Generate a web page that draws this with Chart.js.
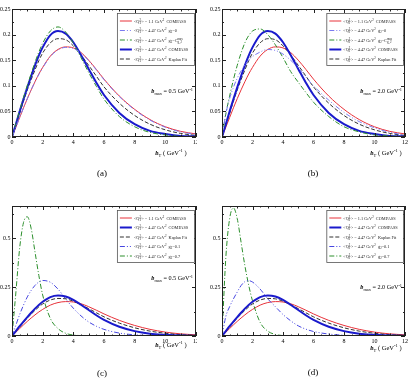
<!DOCTYPE html>
<html><head><meta charset="utf-8">
<script src="https://cdn.jsdelivr.net/npm/chart.js@4.4.1/dist/chart.umd.min.js"></script>
<style>
html,body{margin:0;padding:0;background:#fff;}
body{width:411px;height:382px;position:relative;overflow:hidden;}
canvas{position:absolute;}
</style></head><body>
<canvas id="ca" width="197" height="190" style="left:0;top:0"></canvas>
<canvas id="cb" width="206" height="190" style="left:205px;top:0"></canvas>
<canvas id="cc" width="197" height="192" style="left:0;top:190px"></canvas>
<canvas id="cd" width="206" height="192" style="left:205px;top:190px"></canvas>
<script>
// ---- data ----
const bT = [0,0.25,0.5,0.75,1,1.25,1.5,1.75,2,2.5,3,3.5,4,4.5,5,5.5,6,7,8,9,10,11,12];
const xTicks = [0,2,4,6,8,10,12];
const yTicksAB = [0,0.05,0.1,0.15,0.2,0.25];
const yTicksCD = [0,0.25,0.5];
const compass11 = [0,0.019,0.038,0.057,0.075,0.092,0.108,0.123,0.136,0.158,0.171,0.176,0.174,0.165,0.150,0.132,0.113,0.080,0.054,0.034,0.020,0.011,0.006];
const compass447 = [0,0.025,0.050,0.074,0.097,0.119,0.140,0.159,0.175,0.199,0.207,0.202,0.185,0.160,0.133,0.106,0.082,0.047,0.025,0.012,0.006,0.002,0.001];
const kaplanFit = [0,0.023,0.046,0.070,0.092,0.112,0.131,0.149,0.164,0.184,0.192,0.190,0.178,0.160,0.140,0.119,0.098,0.066,0.042,0.025,0.014,0.007,0.003];
const g2zeroA = [0,0.019,0.038,0.057,0.075,0.092,0.108,0.122,0.135,0.157,0.170,0.175,0.173,0.164,0.149,0.131,0.112,0.079,0.053,0.033,0.019,0.010,0.005];
const g2maxA = [0,0.026,0.052,0.077,0.101,0.124,0.146,0.166,0.183,0.207,0.215,0.205,0.183,0.155,0.126,0.099,0.074,0.040,0.020,0.009,0.004,0.001,0];
const g2zeroB = [0,0.045,0.075,0.097,0.115,0.129,0.141,0.150,0.157,0.166,0.171,0.169,0.162,0.150,0.135,0.117,0.100,0.072,0.048,0.030,0.018,0.009,0.004];
const g2maxB = [0,0.045,0.080,0.112,0.140,0.164,0.184,0.198,0.207,0.211,0.200,0.180,0.155,0.128,0.107,0.087,0.068,0.040,0.020,0.010,0.004,0.002,0];
const g2p1C = [0,0.055,0.110,0.158,0.200,0.233,0.259,0.276,0.284,0.275,0.240,0.190,0.142,0.103,0.072,0.050,0.034,0.015,0.006,0.002,0.001,0,0];
const g2p7C = [0,0.22,0.45,0.58,0.61,0.55,0.43,0.31,0.21,0.09,0.038,0.014,0.005,0.002,0.001,0,0,0,0,0,0,0,0];
const g2p1D = [0,0.100,0.150,0.190,0.225,0.258,0.278,0.283,0.276,0.240,0.190,0.150,0.110,0.078,0.052,0.035,0.023,0.010,0.004,0.001,0,0,0];
const g2p7D = [0,0.40,0.60,0.655,0.60,0.48,0.36,0.26,0.18,0.07,0.025,0.008,0.002,0,0,0,0,0,0,0,0,0,0];
const lblC11 = '<Q_T^2> = 1.1 GeV^2  COMPASS';
const lblC447 = '<Q_T^2> = 4.47 GeV^2  COMPASS';
const lblKap = '<Q_T^2> = 4.47 GeV^2  Kaplan Fit';
const lblG0 = '<Q_T^2> = 4.47 GeV^2  g_2=0';
const lblGmax = '<Q_T^2> = 4.47 GeV^2  g_2=C^{max}_{g_2}';
const lblG01 = '<Q_T^2> = 4.47 GeV^2  g_2=0.1';
const lblG07 = '<Q_T^2> = 4.47 GeV^2  g_2=0.7';
const bmaxA = '|b|_{max} = 0.5 GeV^{-1}';
const bmaxB = '|b|_{max} = 2.0 GeV^{-1}';
const xTitle = '|b|_{T} ( GeV^{-1} )';

// ---- styles ----
const ST = {
  red:   {borderColor:'#e8323a', borderWidth:1, borderDash:[], order:2},
  blue:  {borderColor:'#1a1acc', borderWidth:2, borderDash:[], order:1},
  black: {borderColor:'#303030', borderWidth:1, borderDash:[4,2], order:1},
  green: {borderColor:'#2c8f2c', borderWidth:1, borderDash:[5,2,1,2], order:1},
  lblue: {borderColor:'#7a7af0', borderWidth:1, borderDash:[5,2,1,2,1,2], order:0},
  dblue: {borderColor:'#4646e0', borderWidth:1, borderDash:[5,2,1,2,1,2], order:1}
};
const FONT = '"Liberation Serif","DejaVu Serif",serif';

function richDraw(ctx, str, x, y, size, align, color){
  const segs = []; let i=0, bold=false, buf='';
  const flush=()=>{ if(buf){segs.push({t:buf,k:'n',b:bold}); buf='';} };
  while(i<str.length){
    const c=str[i];
    if(c==='|'){flush(); bold=!bold; i++; continue;}
    if(c==='_'||c==='^'){
      flush(); let t;
      if(str[i+1]==='{'){const e=str.indexOf('}',i+2); t=str.slice(i+2,e); i=e+1;}
      else {t=str[i+1]; i+=2;}
      segs.push({t, k:c==='_'?'sub':'sup', b:false}); continue;
    }
    buf+=c; i++;
  }
  flush();
  const small = size*0.7;
  const fontOf = s => (s.b?'italic bold ':'') + (s.k==='n'?size:small) + 'px ' + FONT;
  let w=0, prevScript=null, prevW=0;
  const pos=[];
  segs.forEach(s=>{
    ctx.font=fontOf(s); const sw=ctx.measureText(s.t).width;
    if(s.k!=='n' && prevScript && prevScript!==s.k){
      const start=w-prevW; pos.push(start); w=start+Math.max(prevW,sw); prevScript=null; prevW=0;
    } else { pos.push(w); w+=sw; prevScript = s.k==='n'?null:s.k; prevW=sw; }
  });
  let x0 = align==='right'? x-w : align==='center'? x-w/2 : x;
  ctx.fillStyle=color||'#000'; ctx.textBaseline='alphabetic'; ctx.textAlign='left';
  segs.forEach((s,j)=>{
    ctx.font=fontOf(s);
    const dy = s.k==='sub'? size*0.25 : s.k==='sup'? -size*0.4 : 0;
    ctx.fillText(s.t, x0+pos[j], y+dy);
  });
}

const frame = {
  id:'frame',
  afterDatasetsDraw(chart, args, o){
    const {ctx, chartArea:a, scales:{x,y}} = chart;
    ctx.save();
    ctx.strokeStyle='#222'; ctx.lineWidth=1; ctx.setLineDash([]);
    ctx.strokeRect(Math.round(a.left)+0.5, Math.round(a.top)+0.5, Math.round(a.right-a.left)-1, Math.round(a.bottom-a.top)-1);
    ctx.beginPath();
    for(let v=0; v<=12; v+=0.5){
      const L = v%2===0?4:(v%1===0?2.5:1.5); const px=Math.round(x.getPixelForValue(v))+0.5;
      ctx.moveTo(px,a.bottom); ctx.lineTo(px,a.bottom-L);
      ctx.moveTo(px,a.top); ctx.lineTo(px,a.top+L);
    }
    o.yMinor.forEach((v,k)=>{
      const L = k%o.yEvery===0?4:2; const py=Math.round(y.getPixelForValue(v))+0.5;
      if(py<a.top+1) return;
      ctx.moveTo(a.left,py); ctx.lineTo(a.left+L,py);
      ctx.moveTo(a.right,py); ctx.lineTo(a.right-L,py);
    });
    ctx.stroke();
    const bx=a.left+(a.right-a.left)*0.57, bw=a.right-2-bx, by=a.top+o.legTop, bh=o.legH;
    ctx.fillStyle='#fff'; ctx.fillRect(bx,by,bw,bh);
    ctx.strokeStyle='#555'; ctx.lineWidth=0.8; ctx.strokeRect(bx+0.5,by+0.5,bw,bh);
    chart.data.datasets.forEach((ds,k)=>{
      const yy = by + 8 + k*9.5;
      ctx.strokeStyle=ds.borderColor; ctx.lineWidth=ds.borderWidth; ctx.setLineDash(ds.borderDash);
      ctx.beginPath(); ctx.moveTo(bx+3,yy); ctx.lineTo(bx+15,yy); ctx.stroke();
      ctx.setLineDash([]);
      richDraw(ctx, ds.label, bx+17, yy+1.5, 4.3, 'left', '#222');
    });
    richDraw(ctx, o.bmax, a.right-3, a.top+(a.bottom-a.top)*o.annY, 6.2, 'right', '#000');
    richDraw(ctx, xTitle, o.titleX, o.titleY, 6.5, 'center', '#000');
    ctx.font = '9px '+FONT; ctx.textAlign='center'; ctx.fillStyle='#000';
    ctx.fillText(o.cap, o.capX, o.capY);
    ctx.restore();
  }
};

function mk(id, series, yTicks, ymax, geo, extra){
  const W = document.getElementById(id).width, H = document.getElementById(id).height;
  new Chart(document.getElementById(id), {
    type:'line',
    data:{datasets: series.map(s=>Object.assign({
      label:s.label, data:bT.map((v,i)=>({x:v,y:s.data[i]})),
      pointRadius:0, fill:false, cubicInterpolationMode:'monotone'
    }, ST[s.style]))},
    options:{
      responsive:false, animation:false, devicePixelRatio:1, events:[],
      layout:{padding:{top:geo.top, right:W-geo.right, left:0, bottom:0}},
      plugins:{legend:{display:false}, tooltip:{enabled:false}, frame:extra},
      scales:{
        x:{type:'linear', min:0, max:12,
           afterBuildTicks:s=>{s.ticks=xTicks.map(v=>({value:v}));},
           afterFit:s=>{s.height=H-geo.bottom; s.paddingLeft=0; s.paddingRight=0;},
           grid:{display:false, drawTicks:false}, border:{display:false},
           ticks:{font:{family:FONT,size:6}, color:'#000', padding:2, maxRotation:0, autoSkip:false, callback:v=>String(v)}},
        y:{type:'linear', min:0, max:ymax,
           afterBuildTicks:s=>{s.ticks=yTicks.map(v=>({value:v}));},
           afterFit:s=>{s.width=geo.left; s.paddingTop=0; s.paddingBottom=0;},
           grid:{display:false, drawTicks:false}, border:{display:false},
           ticks:{font:{family:FONT,size:6}, color:'#000', padding:1.5, autoSkip:false, callback:v=>String(v)}}
      }
    },
    plugins:[frame]
  });
}
const minorAB=[]; for(let k=0;k<=10;k++) minorAB.push(k*0.025);
const minorCD=[]; for(let k=0;k<=5;k++) minorCD.push(k*0.125);

mk('ca', [
  {label:lblC11, data:compass11, style:'red'},
  {label:lblG0, data:g2zeroA, style:'lblue'},
  {label:lblGmax, data:g2maxA, style:'green'},
  {label:lblC447, data:compass447, style:'blue'},
  {label:lblKap, data:kaplanFit, style:'black'}
], yTicksAB, 0.25, {left:12, right:196, top:9, bottom:137},
 {yMinor:minorAB, yEvery:2, legTop:4, legH:52, bmax:bmaxA, annY:0.66, titleX:171, titleY:155, cap:'(a)', capX:102, capY:176});
mk('cb', [
  {label:lblC11, data:compass11, style:'red'},
  {label:lblG0, data:g2zeroB, style:'lblue'},
  {label:lblGmax, data:g2maxB, style:'green'},
  {label:lblC447, data:compass447, style:'blue'},
  {label:lblKap, data:kaplanFit, style:'black'}
], yTicksAB, 0.25, {left:17, right:200, top:9, bottom:137},
 {yMinor:minorAB, yEvery:2, legTop:4, legH:52, bmax:bmaxB, annY:0.66, titleX:181, titleY:155, cap:'(b)', capX:108, capY:176});
mk('cc', [
  {label:lblC11, data:compass11, style:'red'},
  {label:lblC447, data:compass447, style:'blue'},
  {label:lblKap, data:kaplanFit, style:'black'},
  {label:lblG01, data:g2p1C, style:'dblue'},
  {label:lblG07, data:g2p7C, style:'green'}
], yTicksCD, 0.665, {left:12, right:196, top:16, bottom:146},
 {yMinor:minorCD, yEvery:2, legTop:4, legH:52, bmax:bmaxA, annY:0.57, titleX:171, titleY:157, cap:'(c)', capX:102, capY:186});
mk('cd', [
  {label:lblC11, data:compass11, style:'red'},
  {label:lblC447, data:compass447, style:'blue'},
  {label:lblKap, data:kaplanFit, style:'black'},
  {label:lblG01, data:g2p1D, style:'dblue'},
  {label:lblG07, data:g2p7D, style:'green'}
], yTicksCD, 0.665, {left:17, right:200, top:16, bottom:146},
 {yMinor:minorCD, yEvery:2, legTop:4, legH:52, bmax:bmaxB, annY:0.64, titleX:181, titleY:160, cap:'(d)', capX:108, capY:185});
</script>
</body></html>
